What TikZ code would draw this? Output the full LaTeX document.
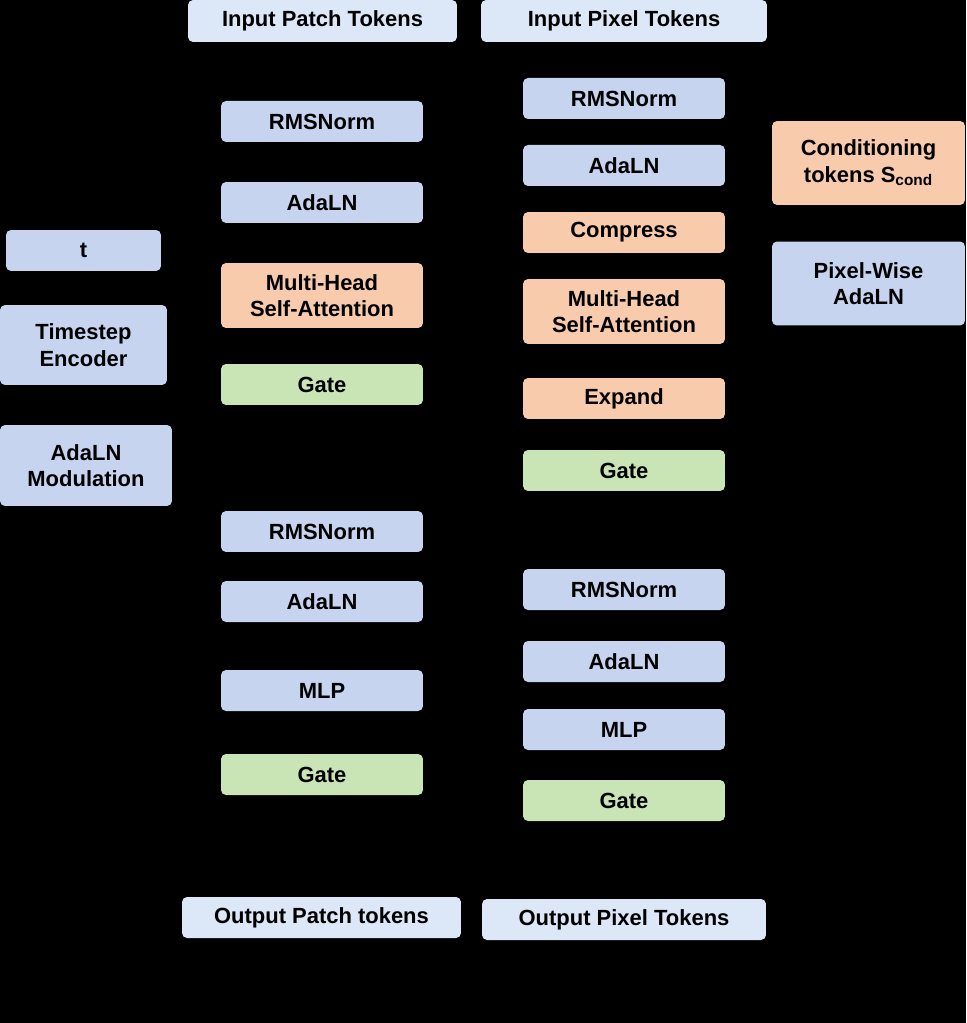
\documentclass[tikz,border=0pt]{standalone}
\usepackage{fontspec}
\setmainfont{Liberation Sans}
\definecolor{bl}{HTML}{C6D4F0}
\definecolor{lb}{HTML}{DCE7F7}
\definecolor{og}{HTML}{F8CBAD}
\definecolor{gr}{HTML}{C9E4B5}
\begin{document}
\begin{tikzpicture}[x=0.02cm,y=-0.02cm,
 box/.style={rectangle,rounded corners=0.1cm,draw=none,align=center,inner sep=0pt,
   font=\fontsize{12.5}{15}\selectfont\bfseries,minimum width=4.04cm,minimum height=0.82cm},
 tall/.style={minimum height=1.3cm}]
\fill[black] (0,0) rectangle (966,1023);
\useasboundingbox (0,0) rectangle (966,1023);
\node[box,fill=lb,minimum width=5.38cm,minimum height=0.84cm] (inpatch) at (322.5,21) {Input Patch Tokens};
\node[box,fill=lb,minimum width=5.72cm,minimum height=0.84cm] (inpix) at (624,21) {Input Pixel Tokens};
% left column
\node[box,fill=bl] (lrms1) at (322,121.5) {RMSNorm};
\node[box,fill=bl] (lada1) at (322,202.5) {AdaLN};
\node[box,fill=og,tall] (lmhsa) at (322,295.5) {Multi-Head\\Self-Attention};
\node[box,fill=gr] (lgate1) at (322,384.5) {Gate};
\node[box,fill=bl] (lrms2) at (322,531.5) {RMSNorm};
\node[box,fill=bl] (lada2) at (322,601.5) {AdaLN};
\node[box,fill=bl] (lmlp) at (322,690.5) {MLP};
\node[box,fill=gr] (lgate2) at (322,774.5) {Gate};
% timestep
\node[box,fill=bl,minimum width=3.1cm] (t) at (83.5,250.5) {t};
\node[box,fill=bl,minimum width=3.34cm,minimum height=1.6cm] (te) at (83.5,345) {Timestep\\Encoder};
\node[box,fill=bl,minimum width=3.44cm,minimum height=1.62cm] (mod) at (86,465.5) {AdaLN\\Modulation};
% right column
\node[box,fill=bl] (rrms1) at (624,98.5) {RMSNorm};
\node[box,fill=bl] (rada1) at (624,165.5) {AdaLN};
\node[box,fill=og] (comp) at (624,232.5) {Compress};
\node[box,fill=og,tall] (rmhsa) at (624,311.5) {Multi-Head\\Self-Attention};
\node[box,fill=og] (exp) at (624,398.5) {Expand};
\node[box,fill=gr] (rgate1) at (624,470.5) {Gate};
\node[box,fill=bl] (rrms2) at (624,589.5) {RMSNorm};
\node[box,fill=bl] (rada2) at (624,661.5) {AdaLN};
\node[box,fill=bl] (rmlp) at (624,729.5) {MLP};
\node[box,fill=gr] (rgate2) at (624,800.5) {Gate};
% side
\node[box,fill=og,minimum width=3.86cm,minimum height=1.68cm] (cond) at (868.5,163) {Conditioning\\tokens S\textsubscript{cond}};
\node[box,fill=bl,minimum width=3.86cm,minimum height=1.68cm] (pwa) at (868.5,283.5) {Pixel-Wise\\AdaLN};
% outputs
\node[box,fill=lb,minimum width=5.58cm] (outpatch) at (321.5,917.5) {Output Patch tokens};
\node[box,fill=lb,minimum width=5.68cm] (outpix) at (624,919.5) {Output Pixel Tokens};
\end{tikzpicture}
\end{document}
